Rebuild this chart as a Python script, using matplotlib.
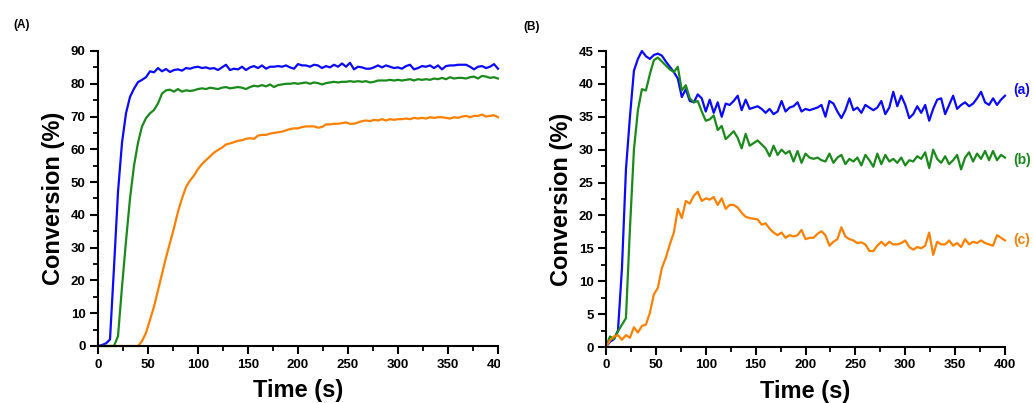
import matplotlib
matplotlib.use("Agg")
import matplotlib.pyplot as plt
from matplotlib.transforms import Bbox, TransformedBbox
from matplotlib.ticker import MultipleLocator

plt.rcParams['font.family'] = ['Liberation Sans', 'DejaVu Sans']
plt.rcParams['font.weight'] = 'bold'

# ---------------- data ----------------
time_s = list(range(0, 401, 4))

# Panel A
a_blue = [0, 0.3, 0.8, 2, 24, 47, 62, 71, 76, 78.5, 80.5, 81.2, 82, 83.8, 83.5, 84.8, 83.8, 84.5, 83.6, 84.2,
          84.4, 84, 84.8, 84.6, 85, 85.2, 84.8, 85, 84.6, 84.8, 84.2, 85, 85.8, 84.2, 84.6, 84.4, 85.2, 84.2, 85, 85.4,
          84.8, 85.6, 84.6, 85.2, 85.2, 85.4, 85.2, 85.6, 85, 84.6, 86, 85.6, 85.6, 85.2, 85.8, 85.6, 84.8, 85.4, 85, 85.8,
          85.2, 86.2, 85.2, 86.4, 84.4, 85.2, 85, 84.6, 84.6, 85, 85.6, 85, 85.6, 85.2, 84.8, 85, 84.6, 85.4, 85.8, 84.4,
          84.8, 85.4, 85.2, 85.6, 84.8, 85.6, 84.4, 85.4, 85.6, 85.6, 85.8, 85.8, 85.8, 85.2, 84.4, 85.2, 85.4, 84.8, 85.2, 86,
          84.6]
a_green = [0, 0, 0, 0, 0, 3, 18, 32, 45, 55, 62, 67, 69.5, 71, 72, 74, 77, 78, 78.2, 77.6,
           78.4, 77.6, 78, 77.8, 78, 78.4, 78.6, 78.4, 78.8, 78.6, 78.4, 78.8, 79, 78.6, 78.8, 79, 78.8, 78.4, 79, 79.4,
           79.2, 79.6, 79.2, 79.8, 79, 79.6, 79.8, 80, 80, 80.2, 80, 80.2, 80.4, 80, 80.4, 80.2, 79.8, 80.2, 80.4, 80.6,
           80.4, 80.6, 80.6, 80.8, 80.6, 80.8, 80.6, 80.8, 80.4, 80.6, 81, 81, 81, 81.2, 81, 81.2, 81, 81.2, 81.4, 81,
           81.4, 81.2, 81.4, 81.2, 81.6, 81.4, 81.8, 81.4, 82, 81.6, 81.8, 81.8, 81.6, 82, 82.2, 81.6, 82.4, 82.2, 81.8, 82,
           81.6, 82][:101]
a_orange = [0, 0, 0, 0, 0, 0, 0, 0, 0, 0, 0, 1.5, 4, 8, 12, 17, 22, 27, 31.5, 36,
            41, 45, 48.5, 50.5, 52, 54, 55.5, 56.7, 57.8, 59, 59.8, 60.5, 61.5, 61.8, 62.2, 62.6, 62.8, 63.2, 63.4, 63.2,
            64.2, 64.4, 64.4, 64.8, 65, 65.2, 65.4, 65.8, 66.2, 66.4, 66.4, 66.8, 67, 67, 67, 66.6, 66.8, 67.6, 67.6, 67.8,
            67.8, 68, 68.2, 67.8, 67.8, 68.2, 68.6, 68.8, 68.6, 69, 68.8, 69.2, 68.8, 69.2, 69, 69.2, 69.2, 69.4, 69.2, 69.6,
            69.4, 69.6, 69.4, 69.8, 69.6, 69.8, 69.8, 69.6, 69.4, 69.8, 69.6, 70, 70.2, 69.8, 70.2, 70.2, 70.6, 70, 70.2, 70.4,
            69.8]

# Panel B
b_blue = [0, 0.8, 1.2, 2.5, 12, 27, 35, 42, 43.8, 45, 44.2, 43.8, 44.4, 44.6, 44.3, 43.4, 42.6, 41.8, 40.8, 38,
          39.2, 37.4, 37.2, 38.4, 37.8, 35.8, 37.6, 35.6, 37.2, 35, 37, 36.8, 37.4, 38.2, 36, 37.6, 36.2, 36.4, 36.6, 36.2,
          35.6, 36.2, 35.4, 35.8, 37.4, 35.8, 36.4, 36.6, 37.2, 35.8, 36.2, 36, 36.2, 36.4, 36.8, 35, 37.4, 37, 35.8, 34.8,
          36, 37.8, 36, 36.4, 35.6, 36.8, 36.4, 36, 36.4, 37.4, 35.4, 36.4, 38.8, 36.6, 38.2, 36.8, 34.8, 35.4, 36.6, 35.6,
          36.8, 34.4, 36.2, 37.6, 37.8, 35.4, 36.8, 38.2, 36.2, 36.8, 37.2, 36.6, 37, 37.8, 38.8, 37.2, 36.8, 37.8, 36.8, 37.6,
          38.2]
b_green = [0, 1.6, 1.2, 2.4, 3.4, 4.4, 18, 30, 36, 39.2, 39, 41.5, 43.6, 44, 43.4, 42.8, 42.2, 41.8, 42.6, 39,
           39.8, 37.8, 37.2, 37.4, 35.8, 34.4, 34.6, 35.2, 33, 33.6, 31.6, 32.2, 32.8, 31.8, 30.2, 32.4, 30.6, 31, 31.4, 30.8,
           30.2, 29, 30.6, 29.2, 30, 29.4, 29.8, 28.2, 29.8, 28, 29.4, 28.8, 28.6, 28.8, 28.4, 28.2, 29.4, 28, 28.8, 29.2,
           27.8, 28.6, 28.2, 28.8, 27.6, 29.2, 28.4, 27.4, 29.4, 27.8, 29.2, 28.2, 28.6, 28, 28.8, 27.6, 28.4, 28.2, 29, 28.6,
           29.6, 27.2, 30, 28.6, 28, 29, 27.8, 28.4, 29.2, 27, 28.8, 29.6, 28.2, 29.4, 28.6, 29.8, 28.4, 29.8, 28.4, 29.2,
           28.8]
b_orange = [0, 1, 1.6, 1.8, 1.1, 1.8, 1.4, 3, 2.2, 3.2, 3.4, 5.2, 8, 9, 12, 13.6, 15.6, 17.4, 21, 19.6,
            22.2, 21.8, 23, 23.6, 22.2, 22.6, 22.4, 22.8, 21.6, 22.6, 21, 21.6, 21.6, 21.2, 20.4, 19.8, 19.6, 19.5, 19.4, 18.6,
            18.8, 18, 17.4, 17, 17.4, 16.6, 17, 16.8, 17, 17.8, 16.4, 16.6, 16.6, 17.2, 17.6, 17, 15.4, 16, 16.4, 18.2,
            16.8, 16.4, 16.2, 15.8, 15.9, 15.6, 14.6, 14.6, 15.4, 16, 15.4, 16, 15.6, 15.6, 15.8, 16.2, 15.2, 14.8, 15.2, 15,
            15.4, 17.4, 14, 16, 15.6, 15.6, 16.2, 15.4, 15.8, 15.2, 16.4, 15.6, 16, 15.8, 16.2, 15.8, 15.6, 15.4, 17, 16.6,
            16.2]

x_ticks = [0, 50, 100, 150, 200, 250, 300, 350, 400]
x_ticklabels = ['0', '50', '100', '150', '200', '250', '300', '350', '400']
a_yticks = [0, 10, 20, 30, 40, 50, 60, 70, 80, 90]
b_yticks = [0, 5, 10, 15, 20, 25, 30, 35, 40, 45]
curve_labels = ['(a)', '(b)', '(c)']
curve_label_y = [39.0, 28.4, 16.2]

BLUE = '#0a0aff'
GREEN = '#1a8a1a'
ORANGE = '#ff8000'

W, H = 1033, 403
fig = plt.figure(figsize=(W / 100, H / 100), dpi=100)
fig.patch.set_facecolor('white')

axA = fig.add_axes([98 / W, 1 - 346 / H, 400 / W, 295 / H])
axB = fig.add_axes([606 / W, 1 - 347 / H, 399 / W, 296 / H])


def style(ax, yticks, ymax, yminor):
    ax.set_xlim(0, 400)
    ax.set_ylim(0, ymax)
    ax.set_xticks(x_ticks)
    ax.set_xticklabels(x_ticklabels)
    ax.set_yticks(yticks)
    ax.xaxis.set_minor_locator(MultipleLocator(25))
    ax.yaxis.set_minor_locator(MultipleLocator(yminor))
    for s in ['top', 'right']:
        ax.spines[s].set_visible(False)
    for s in ['left', 'bottom']:
        ax.spines[s].set_linewidth(1.5)
    ax.tick_params(which='major', direction='out', length=6, width=1.5, labelsize=9.5, pad=3)
    ax.tick_params(which='minor', direction='out', length=3.5, width=1.3)
    for lbl in ax.get_xticklabels() + ax.get_yticklabels():
        lbl.set_fontweight('bold')
    ax.set_xlabel('Time (s)', fontsize=17, fontweight='bold', labelpad=6)
    ax.set_ylabel('Conversion (%)', fontsize=17, fontweight='bold', labelpad=4)


lw = 1.6
axA.plot(time_s, a_blue, color=BLUE, lw=lw, clip_on=False)
axA.plot(time_s, a_green, color=GREEN, lw=lw, clip_on=False)
axA.plot(time_s, a_orange, color=ORANGE, lw=lw, clip_on=False)
style(axA, a_yticks, 90, 5)

axB.plot(time_s, b_blue, color=BLUE, lw=lw, clip_on=False)
axB.plot(time_s, b_green, color=GREEN, lw=lw, clip_on=False)
axB.plot(time_s, b_orange, color=ORANGE, lw=lw, clip_on=False)
style(axB, b_yticks, 45, 2.5)

# clip the last tick label of panel A, as in the reference
clipbox = TransformedBbox(Bbox([[0, 0], [500 / W, 1]]), fig.transFigure)
for tick in axA.xaxis.get_major_ticks():
    tick.label1.set_clip_box(clipbox)
    tick.label1.set_clip_on(True)

for lab, yv, col in zip(curve_labels, curve_label_y, [BLUE, GREEN, ORANGE]):
    axB.text(408, yv, lab, color=col, fontsize=10, fontweight='bold',
             va='center', ha='left', clip_on=False)

fig.text(13 / W, 1 - 25 / H, '(A)', fontsize=8.5, fontweight='bold', va='center', ha='left')
fig.text(523 / W, 1 - 27 / H, '(B)', fontsize=8.5, fontweight='bold', va='center', ha='left')

fig.savefig('out.png', dpi=100)
